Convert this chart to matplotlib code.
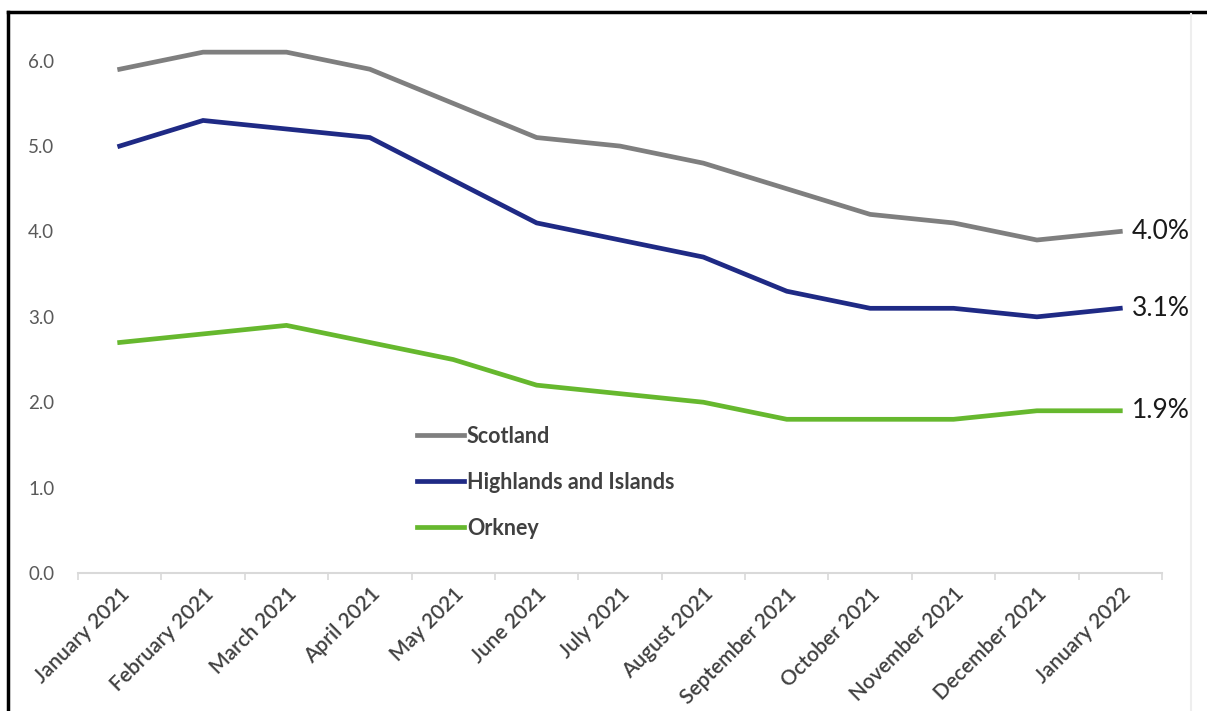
import matplotlib
matplotlib.use("Agg")
import matplotlib.pyplot as plt
from matplotlib.lines import Line2D

months = ["January 2021", "February 2021", "March 2021", "April 2021", "May 2021",
          "June 2021", "July 2021", "August 2021", "September 2021", "October 2021",
          "November 2021", "December 2021", "January 2022"]
scotland = [5.9, 6.1, 6.1, 5.9, 5.5, 5.1, 5.0, 4.8, 4.5, 4.2, 4.1, 3.9, 4.0]
highlands = [5.0, 5.3, 5.2, 5.1, 4.6, 4.1, 3.9, 3.7, 3.3, 3.1, 3.1, 3.0, 3.1]
orkney = [2.7, 2.8, 2.9, 2.7, 2.5, 2.2, 2.1, 2.0, 1.8, 1.8, 1.8, 1.9, 1.9]
series_names = ["Scotland", "Highlands and Islands", "Orkney"]
colors = ["#7f7f7f", "#1f2a85", "#66b82e"]
yticks = [0.0, 1.0, 2.0, 3.0, 4.0, 5.0, 6.0]

plt.rcParams['font.family'] = ['Lato', 'DejaVu Sans']

W, H = 1207, 711
fig = plt.figure(figsize=(W / 100, H / 100), dpi=100)
fig.patch.set_facecolor("white")

left_px, right_px, bottom_px, top_px = 78, 1162, 573, 18
ax = fig.add_axes([left_px / W, 1 - bottom_px / H, (right_px - left_px) / W, (bottom_px - top_px) / H])

x = list(range(len(months)))
for vals, name, c in zip([scotland, highlands, orkney], series_names, colors):
    ax.plot(x, vals, color=c, lw=3.4, label=name, solid_joinstyle='miter')
    ax.annotate(f"{vals[-1]:.1f}%", xy=(x[-1], vals[-1]), xytext=(8, 0),
                textcoords="offset points", va="center", ha="left",
                fontsize=19, color="#1a1a1a")

ax.set_xlim(-0.5, len(months) - 0.5)
ax.set_ylim(0, 6.5)
for s in ["top", "right", "left"]:
    ax.spines[s].set_visible(False)
ax.spines["bottom"].set_color("#d9d9d9")
ax.spines["bottom"].set_linewidth(1.5)

ax.set_yticks(yticks)
ax.set_yticklabels([f"{v:.1f}" for v in yticks], fontsize=13.5, color="#595959")
ax.tick_params(axis="y", length=0, pad=17)

ax.set_xticks(x)
ax.set_xticklabels(months, rotation=45, ha="right", rotation_mode="anchor",
                   fontsize=15, color="#404040", fontweight="semibold")
ax.tick_params(axis="x", which="major", length=0, pad=8)
ax.set_xticks([i - 0.5 for i in range(len(months) + 1)], minor=True)
ax.tick_params(axis="x", which="minor", length=5, width=1.2, color="#d9d9d9")

leg = ax.legend(loc="upper left", bbox_to_anchor=(417 / W, 1 - 426 / H),
                bbox_transform=fig.transFigure, frameon=False, fontsize=15.5,
                handlelength=2.2, handletextpad=0.12, labelspacing=1.15,
                borderpad=0, borderaxespad=0)
for t in leg.get_texts():
    t.set_color("#404040")
    t.set_fontweight("bold")

# frame lines around the picture
fig.add_artist(Line2D([8 / W, 1.0], [1 - 12 / H, 1 - 12 / H], transform=fig.transFigure,
                      color="black", lw=2.5))
fig.add_artist(Line2D([8 / W, 8 / W], [0, 1 - 12 / H], transform=fig.transFigure,
                      color="black", lw=2.5))
fig.add_artist(Line2D([1191 / W, 1191 / W], [0, 1 - 14 / H], transform=fig.transFigure,
                      color="#eeeeee", lw=1.5))

fig.savefig("out.png", dpi=100, facecolor="white")
